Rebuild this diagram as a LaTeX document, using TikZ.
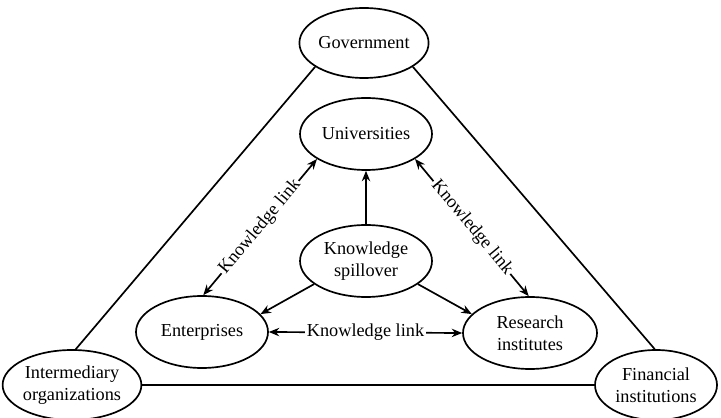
\documentclass[tikz,border=0pt]{standalone}
\usepackage{fontspec}
\setmainfont{Liberation Serif}
\usetikzlibrary{shapes.geometric,arrows.meta}

\begin{document}
\begin{tikzpicture}[line width=1.2pt,
    party/.style={ellipse, draw, inner sep=0pt, align=center,
        minimum width=3.3cm, minimum height=1.8cm,
        font=\fontsize{13}{16}\selectfont},
    flow/.style={-{Stealth[length=2.6mm,width=2.1mm]}},
    link/.style={{Stealth[length=2.6mm,width=2.1mm]}-{Stealth[length=2.6mm,width=2.1mm]}},
    linklabel/.style={fill=white, inner sep=1pt, font=\fontsize{13}{16}\selectfont}]

    \useasboundingbox (0,0) rectangle (18.025,10.425);

    % Outer triangle
    \node[party, minimum width=3.2cm, minimum height=1.75cm] (gov) at (9.10, 9.35) {Government};
    \node[party, minimum width=3.35cm, minimum height=1.75cm] (inter) at (1.80, 0.80) {Intermediary\\organizations};
    \node[party, minimum width=3.05cm, minimum height=1.75cm] (fin) at (16.40, 0.80) {Financial\\institutions};

    \draw (gov.206) -- (inter.84);
    \draw (gov.334) -- (fin.92);
    \draw (inter.east) -- (fin.west);

    % Inner actors
    \node[party] (uni) at (9.15, 7.075) {Universities};
    \node[party] (spill) at (9.15, 3.90) {Knowledge\\spillover};
    \node[party] (ent) at (5.05, 2.125) {Enterprises};
    \node[party, minimum width=3.35cm] (res) at (13.25, 2.10) {Research\\institutes};

    % Spillover
    \draw[flow] (spill.north) -- (uni.south);
    \draw[flow] (spill.204) -- (ent.17);
    \draw[flow] (spill.336) -- (res.162);

    % Knowledge links
    \draw[link] (uni.207) -- node[linklabel, sloped] {Knowledge link} (ent.88);
    \draw[link] (uni.333) -- node[linklabel, sloped] {Knowledge link} (res.92);
    \draw[link] (ent.east) -- node[linklabel] {Knowledge link} (res.west);

\end{tikzpicture}
\end{document}
